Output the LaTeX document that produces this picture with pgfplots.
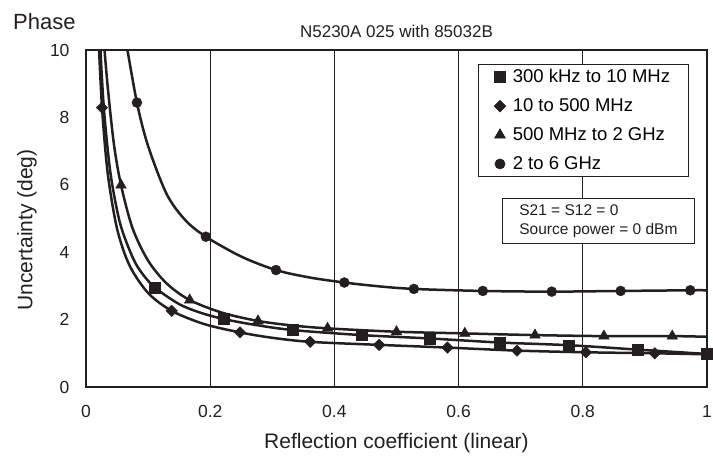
\documentclass[border=0pt]{standalone}
\usepackage{fontspec}
\setmainfont{Liberation Sans}
\usepackage{pgfplots}
\pgfplotsset{compat=1.18}
\definecolor{ink}{HTML}{231F20}

\begin{document}
\begin{tikzpicture}
\begin{axis}[
    scale only axis,
    width=621pt, height=337pt,
    xmin=0, xmax=1, ymin=0, ymax=10,
    xtick={0,0.2,0.4,0.6,0.8,1},
    xticklabels={0,0.2,0.4,0.6,0.8,1},
    ytick={0,2,4,6,8,10},
    major tick length=0pt,
    xmajorgrids,
    grid style={ink, line width=0.8pt},
    axis line style={ink, line width=2pt},
    /pgf/number format/assume math mode=true,
    tick label style={font=\fontsize{17.5}{17.5}\selectfont, text=ink},
    yticklabel style={xshift=-13pt},
    xticklabel style={yshift=-15pt},
    xlabel={Reflection coefficient (linear)},
    ylabel={Uncertainty (deg)},
    label style={font=\fontsize{21}{21}\selectfont, text=ink},
    xlabel style={at={(axis description cs:0.5,-0.166)}, anchor=center},
    ylabel style={at={(axis description cs:-0.095,0.466)}, anchor=center},
    legend style={at={(axis description cs:0.631,0.958)}, anchor=north west,
        draw=ink, line width=0.7pt, fill=white,
        font=\fontsize{18.5}{18.5}\selectfont,
        inner xsep=16pt, inner ysep=3pt, row sep=10.5pt, column sep=5pt},
    legend cell align=left,
    every axis plot/.append style={ink},
]
% curves
\addplot[smooth, line width=2.5pt, forget plot] coordinates {
 (0.0215,10.73) (0.025,9.38) (0.03,7.99) (0.04,6.27) (0.055,4.85) (0.075,3.85)
 (0.09,3.38) (0.111,2.95) (0.15,2.46) (0.185,2.2) (0.221,2.02) (0.27,1.85)
 (0.333,1.69) (0.444,1.54) (0.554,1.44) (0.666,1.32) (0.778,1.24) (0.888,1.11) (1.0,0.98)};
\addplot[smooth, line width=2.5pt, forget plot] coordinates {
 (0.02,10.44) (0.0258,8.29) (0.035,6.34) (0.05,4.70) (0.07,3.61) (0.1,2.79)
 (0.138,2.26) (0.19,1.87) (0.248,1.62) (0.30,1.46) (0.361,1.34) (0.472,1.25)
 (0.582,1.17) (0.694,1.08) (0.805,1.03) (0.916,1.00) (1.0,0.97)};
\addplot[smooth, line width=2.5pt, forget plot] coordinates {
 (0.0285,10.3) (0.035,8.9) (0.045,7.2) (0.0564,5.99) (0.075,4.71) (0.1,3.75)
 (0.13,3.07) (0.167,2.58) (0.22,2.2) (0.277,1.96) (0.33,1.83) (0.389,1.74)
 (0.5,1.64) (0.61,1.59) (0.723,1.54) (0.834,1.51) (0.944,1.51) (1.0,1.49)};
\addplot[smooth, line width=2.5pt, forget plot] coordinates {
 (0.064,10.3) (0.082,8.44) (0.1,7.15) (0.13,5.72) (0.16,4.95) (0.193,4.46)
 (0.25,3.87) (0.306,3.47) (0.36,3.25) (0.416,3.10) (0.47,2.99) (0.528,2.91)
 (0.639,2.85) (0.75,2.83) (0.861,2.85) (0.973,2.87) (1.0,2.87)};
% markers
\addplot[only marks, mark=square*, mark size=5.5pt, mark options={fill=ink, draw=ink}] coordinates {
 (0.111,2.95) (0.221,2.02) (0.333,1.69) (0.444,1.54) (0.554,1.44)
 (0.666,1.32) (0.778,1.24) (0.888,1.11) (1.0,0.98)};
\addplot[only marks, mark=square*, mark size=4.1pt, mark options={rotate=45, fill=ink, draw=ink}] coordinates {
 (0.0258,8.29) (0.138,2.26) (0.248,1.62) (0.361,1.34) (0.472,1.25)
 (0.582,1.17) (0.694,1.08) (0.805,1.03) (0.916,1.00)};
\addplot[only marks, mark=triangle*, mark size=6.2pt, mark options={fill=ink, draw=ink}] coordinates {
 (0.0564,5.99) (0.167,2.58) (0.277,1.96) (0.389,1.74) (0.5,1.64)
 (0.61,1.59) (0.723,1.54) (0.834,1.51) (0.944,1.51)};
\addplot[only marks, mark=*, mark size=5pt, mark options={fill=ink, draw=ink}] coordinates {
 (0.082,8.44) (0.193,4.46) (0.306,3.47) (0.416,3.10) (0.528,2.91)
 (0.639,2.85) (0.75,2.83) (0.861,2.85) (0.973,2.87)};
\legend{300 kHz to 10 MHz, 10 to 500 MHz, 500 MHz to 2 GHz, 2 to 6 GHz}
\end{axis}
\node[anchor=base, font=\fontsize{17}{17}\selectfont, text=ink] at (310.5pt,349pt) {N5230A 025 with 85032B};
\node[anchor=base west, inner sep=0pt, font=\fontsize{22}{22}\selectfont, text=ink] at (-73pt,358pt) {Phase};
\node[anchor=north west, draw=ink, line width=0.7pt, fill=white, align=left,
      font=\fontsize{15.5}{19}\selectfont, text=ink, inner xsep=17pt, inner ysep=6pt]
      at (416pt,189pt) {S21 = S12 = 0\\Source power = 0 dBm};
\pgfresetboundingbox
\useasboundingbox (-86pt,-72pt) rectangle (627pt,387pt);
\end{tikzpicture}
\end{document}
